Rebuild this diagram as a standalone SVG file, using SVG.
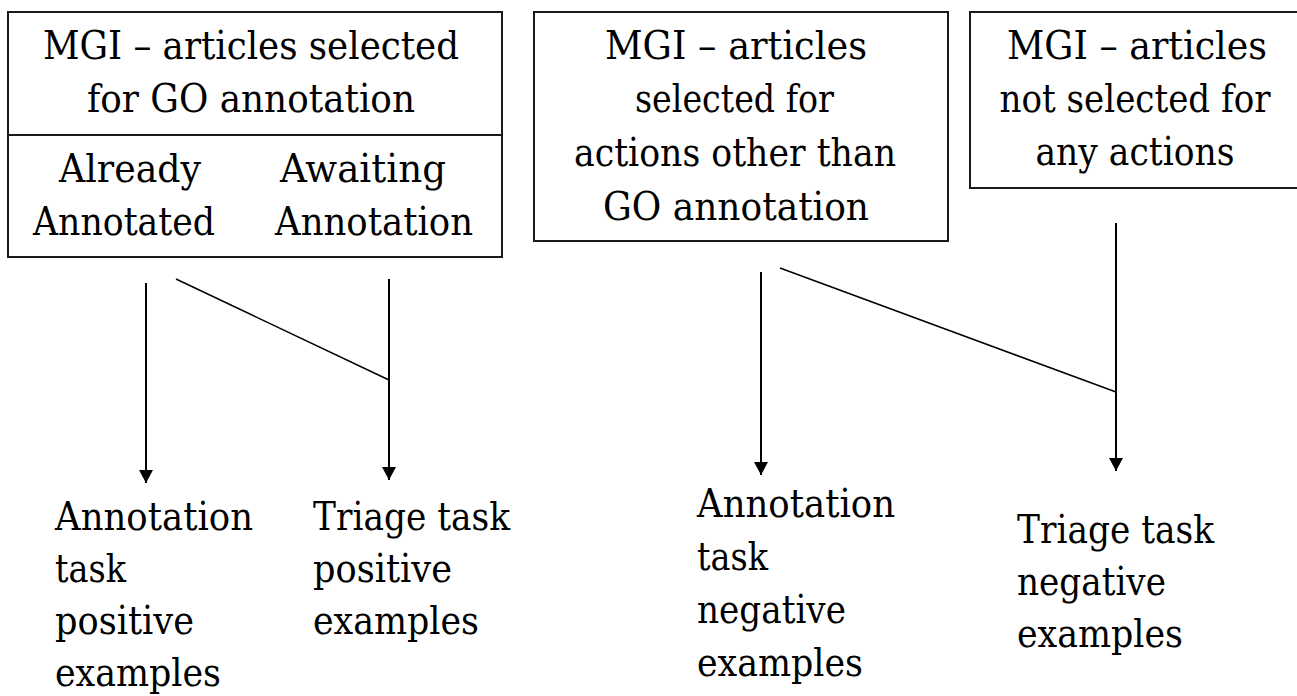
<svg xmlns="http://www.w3.org/2000/svg" width="1297" height="696" viewBox="0 0 1297 696">
<style>
  .box { fill: #ffffff; stroke: #1a1a1a; stroke-width: 2; }
  .t { font-family: 'DejaVu Serif', 'Liberation Serif', serif; font-size: 39px; fill: #000000; }
  .c { text-anchor: middle; }
  .edge { stroke: #000000; stroke-width: 2; fill: none; }
  .thin { stroke: #000000; stroke-width: 1.5; fill: none; }
</style>
<defs>
  <marker id="arrow" markerUnits="userSpaceOnUse" markerWidth="16" markerHeight="16" refX="13" refY="8" orient="auto">
    <path d="M0,1 L13,8 L0,15 z" fill="#000000"/>
  </marker>
</defs>
<rect width="1297" height="696" fill="#ffffff"/>

<g id="box-go-selected">
  <rect class="box" x="8" y="12" width="494" height="245"/>
  <line class="box" x1="8" y1="135" x2="502" y2="135"/>
  <text class="t" x="43" y="59" textLength="416" lengthAdjust="spacingAndGlyphs">MGI – articles selected</text>
  <text class="t" x="87" y="112" textLength="328" lengthAdjust="spacingAndGlyphs">for GO annotation</text>
  <text class="t" x="59" y="182" textLength="142" lengthAdjust="spacingAndGlyphs">Already</text>
  <text class="t" x="33" y="235" textLength="182" lengthAdjust="spacingAndGlyphs">Annotated</text>
  <text class="t" x="280" y="182" textLength="166" lengthAdjust="spacingAndGlyphs">Awaiting</text>
  <text class="t" x="275" y="235" textLength="198" lengthAdjust="spacingAndGlyphs">Annotation</text>
</g>

<g id="box-other-actions">
  <rect class="box" x="534" y="12" width="414" height="229"/>
  <text class="t" x="605" y="59" textLength="262" lengthAdjust="spacingAndGlyphs">MGI – articles</text>
  <text class="t" x="635" y="112" textLength="199" lengthAdjust="spacingAndGlyphs">selected for</text>
  <text class="t" x="574" y="166" textLength="322" lengthAdjust="spacingAndGlyphs">actions other than</text>
  <text class="t" x="603" y="220" textLength="266" lengthAdjust="spacingAndGlyphs">GO annotation</text>
</g>

<g id="box-not-selected">
  <rect x="970" y="12" width="327" height="176" fill="#ffffff"/>
  <path class="box" fill="none" d="M1297,12 H970 V188 H1297"/>
  <text class="t c" x="1137" y="59" textLength="260" lengthAdjust="spacingAndGlyphs">MGI – articles</text>
  <text class="t c" x="1135" y="112" textLength="271" lengthAdjust="spacingAndGlyphs">not selected for</text>
  <text class="t c" x="1135" y="165" textLength="199" lengthAdjust="spacingAndGlyphs">any actions</text>
</g>

<g id="label-annotation-positive">
  <text class="t" x="55" y="530" textLength="198" lengthAdjust="spacingAndGlyphs">Annotation</text>
  <text class="t" x="55" y="582" textLength="71" lengthAdjust="spacingAndGlyphs">task</text>
  <text class="t" x="55" y="634" textLength="139" lengthAdjust="spacingAndGlyphs">positive</text>
  <text class="t" x="55" y="686" textLength="166" lengthAdjust="spacingAndGlyphs">examples</text>
</g>

<g id="label-triage-positive">
  <text class="t" x="313" y="530" textLength="197" lengthAdjust="spacingAndGlyphs">Triage task</text>
  <text class="t" x="313" y="582" textLength="139" lengthAdjust="spacingAndGlyphs">positive</text>
  <text class="t" x="313" y="634" textLength="166" lengthAdjust="spacingAndGlyphs">examples</text>
</g>

<g id="label-annotation-negative">
  <text class="t" x="697" y="517" textLength="198" lengthAdjust="spacingAndGlyphs">Annotation</text>
  <text class="t" x="697" y="570" textLength="71" lengthAdjust="spacingAndGlyphs">task</text>
  <text class="t" x="697" y="623" textLength="149" lengthAdjust="spacingAndGlyphs">negative</text>
  <text class="t" x="697" y="676" textLength="166" lengthAdjust="spacingAndGlyphs">examples</text>
</g>

<g id="label-triage-negative">
  <text class="t" x="1017" y="543" textLength="197" lengthAdjust="spacingAndGlyphs">Triage task</text>
  <text class="t" x="1017" y="595" textLength="149" lengthAdjust="spacingAndGlyphs">negative</text>
  <text class="t" x="1017" y="647" textLength="166" lengthAdjust="spacingAndGlyphs">examples</text>
</g>

<g id="connectors">
  <line class="edge" x1="146" y1="283" x2="146" y2="483" marker-end="url(#arrow)"/>
  <line class="edge" x1="389" y1="279" x2="389" y2="480" marker-end="url(#arrow)"/>
  <line class="thin" x1="176" y1="279" x2="389" y2="380"/>
  <line class="edge" x1="761" y1="272" x2="761" y2="475" marker-end="url(#arrow)"/>
  <line class="thin" x1="780" y1="268" x2="1116" y2="392"/>
  <line class="edge" x1="1116" y1="223" x2="1116" y2="471" marker-end="url(#arrow)"/>
</g>
</svg>
